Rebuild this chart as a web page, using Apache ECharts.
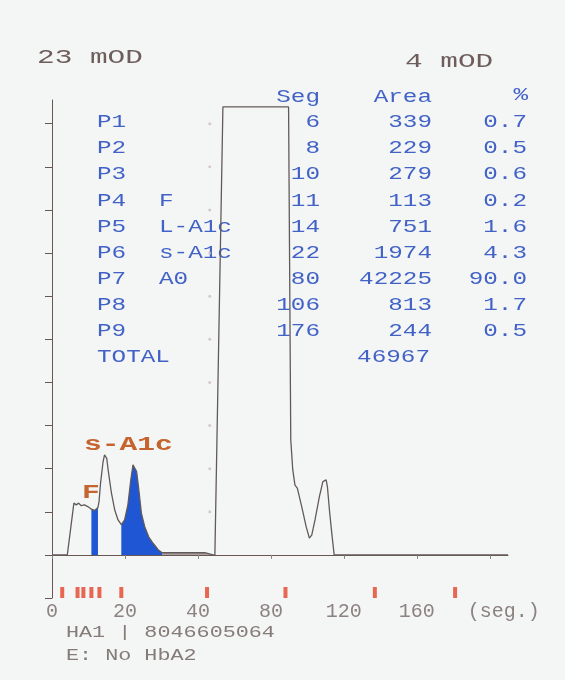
<!DOCTYPE html>
<html lang="en">
<head>
<meta charset="UTF-8">
<title>HbA1c chromatogram</title>
<script src="https://cdn.jsdelivr.net/npm/echarts@6.0.0/dist/echarts.min.js"></script>
<style>
  html, body { margin: 0; padding: 0; background: #f4f6f6; }
  #chart { width: 565px; height: 680px; }
</style>
</head>
<body>
<div id="chart"></div>
<script>
// peak table
const peakIds = ['P1', 'P2', 'P3', 'P4', 'P5', 'P6', 'P7', 'P8', 'P9'];
const peakNames = ['', '', '', 'F', 'L-A1c', 's-A1c', 'A0', '', ''];
const peakSegs = [6, 8, 10, 11, 14, 22, 80, 106, 176];
const peakAreas = [339, 229, 279, 113, 751, 1974, 42225, 813, 244];
const peakPcts = ['0.7', '0.5', '0.6', '0.2', '1.6', '4.3', '90.0', '1.7', '0.5'];
const totalArea = 46967;

// trace (x in seg., y in tick units)
const traceSeg = [0, 4.2, 6.0, 6.65, 7.3, 8.0, 8.9, 9.8, 10.3, 10.8,
  11.7, 12.6, 12.9, 13.3, 14.0, 14.4, 15.0, 15.5, 16.3, 17.2,
  18.1, 19.0, 19.9, 20.8, 21.6, 22.2, 22.7, 23.2, 23.8, 24.5,
  25.4, 26.5, 27.7, 29.1, 30.2, 36.4, 43.8, 48.2, 49.3, 53.7,
  89.7, 90.9, 92.0, 93.2, 94.5, 96.9, 99.3, 101.1, 102.4, 104.2,
  106.6, 108.5, 110.3, 111.0, 112.1, 113.4, 114.7, 210];
const traceOD = [0, 0, 1.20, 1.16, 1.20, 1.14, 1.16, 1.12, 1.16, 1.06,
  1.03, 1.10, 1.24, 1.66, 2.16, 2.32, 2.24, 1.90, 1.43, 1.04,
  0.81, 0.70, 0.81, 1.16, 1.74, 2.09, 2.13, 1.93, 1.51, 0.97,
  0.66, 0.42, 0.27, 0.12, 0.05, 0.05, 0.05, 0, 0, 10.39,
  10.39, 2.67, 1.97, 1.62, 1.55, 1.12, 0.66, 0.39, 0.46, 0.81,
  1.35, 1.70, 1.74, 1.58, 1.04, 0.50, 0, 0];

const fRange = [10.8, 12.6];
const sA1cRange = [19.0, 30.2];
const tailRange = [30.2, 48.2];

const markerSegs = [2.8, 7.0, 8.6, 10.8, 13.0, 19.0, 45, 88, 137, 181];
const dotSeg = 46.5;
const dotLevels = [1, 2, 3, 4, 5, 6, 7, 8, 9, 10];

const xTickLabels = [0, 20, 40, 80, 120, 160];
const xUnitLabel = '(seg.)';
const yTicks = [-1, 0, 1, 2, 3, 4, 5, 6, 7, 8, 9, 10];

// the printer draws 0-40 seg at double width
const toAxis = s => s <= 40 ? s : 40 + (s - 40) / 2;

const tracePts = traceSeg.map((s, i) => [toAxis(s), traceOD[i]]);
function part(r) {
    return traceSeg.map((s, i) => [s, traceOD[i]])
        .filter(p => p[0] >= r[0] && p[0] <= r[1])
        .map(p => [toAxis(p[0]), p[1]]);
}

const MONO = '"Liberation Mono", "DejaVu Sans Mono", monospace';
function txt(str, x, y, o) {
    return {
        type: 'text', x: x, y: y, scaleX: o.sx || 1, silent: true,
        style: {
            text: str,
            font: (o.bold ? 'bold ' : '') + o.size + 'px ' + MONO,
            fill: o.color,
            align: o.align || 'left', textAlign: o.align || 'left',
            verticalAlign: 'middle', textVerticalAlign: 'middle'
        }
    };
}

const BLUE = '#4262c6';
const tbl = { size: 18, sx: 1.35, color: BLUE };
const graphics = [
    txt('23 mOD', 37, 57, { size: 21, sx: 1.4, color: '#6d5d5b' }),
    txt('4 mOD', 405, 61, { size: 21, sx: 1.4, color: '#6d5d5b' }),
    txt('Seg', 320, 97, Object.assign({ align: 'right' }, tbl)),
    txt('Area', 432, 97, Object.assign({ align: 'right' }, tbl)),
    txt('%', 528, 95, Object.assign({ align: 'right' }, tbl)),
    txt('s-A1c', 84, 445, { size: 20, sx: 1.48, bold: true, color: '#c5642e' }),
    txt('F', 82, 493, { size: 20, sx: 1.48, bold: true, color: '#c5642e' }),
    txt('HA1 | 8046605064', 66, 633, { size: 16, sx: 1.36, color: '#857b79' }),
    txt('E: No HbA2', 66, 656, { size: 16, sx: 1.36, color: '#857b79' })
];
peakIds.forEach((id, i) => {
    const y = 122.5 + 26.1 * i;
    graphics.push(txt(id, 97, y, tbl));
    if (peakNames[i]) graphics.push(txt(peakNames[i], 159, y, tbl));
    graphics.push(txt(String(peakSegs[i]), 320, y, Object.assign({ align: 'right' }, tbl)));
    graphics.push(txt(String(peakAreas[i]), 432, y, Object.assign({ align: 'right' }, tbl)));
    graphics.push(txt(peakPcts[i], 527, y, Object.assign({ align: 'right' }, tbl)));
});
graphics.push(txt('TOTAL', 97, 122.5 + 26.1 * 9, tbl));
graphics.push(txt(String(totalArea), 430, 122.5 + 26.1 * 9, Object.assign({ align: 'right' }, tbl)));

const AXIS = '#6b5752';
const chart = echarts.init(document.getElementById('chart'));
chart.setOption({
    animation: false,
    backgroundColor: '#f4f6f6',
    grid: { left: 52, right: 57, top: 100, bottom: 82 },
    xAxis: {
        type: 'value', min: 0, max: 125,
        axisLine: { lineStyle: { color: AXIS, width: 1 } },
        axisTick: { show: true, length: 4, lineStyle: { color: '#8c8280' },
            customValues: [0, 20, 40, 60, 80, 100, 120] },
        splitLine: { show: false },
        axisLabel: {
            customValues: [0, 20, 40, 60, 80, 100, 120],
            margin: 4,
            color: '#8c8280', fontSize: 20, fontFamily: MONO,
            formatter: v => {
                const i = Math.round(v / 20);
                return i < xTickLabels.length ? String(xTickLabels[i]) : '{u|' + xUnitLabel + '}';
            },
            rich: { u: { padding: [0, 0, 0, 28], color: '#8c8280', fontSize: 20, fontFamily: MONO } }
        }
    },
    yAxis: {
        type: 'value', min: -1, max: 10.55,
        axisLine: { show: true, lineStyle: { color: AXIS, width: 1 } },
        axisTick: { show: true, length: 7, lineStyle: { color: AXIS }, customValues: yTicks },
        axisLabel: { show: false },
        splitLine: { show: false }
    },
    graphic: graphics,
    series: [
        {
            type: 'line', data: part(fRange), symbol: 'none', silent: true, z: 2,
            lineStyle: { width: 0 }, areaStyle: { color: '#1f56d4', opacity: 1 }
        },
        {
            type: 'line', data: part(sA1cRange), symbol: 'none', silent: true, z: 2,
            lineStyle: { width: 0 }, areaStyle: { color: '#1f56d4', opacity: 1 }
        },
        {
            type: 'line', data: part(tailRange), symbol: 'none', silent: true, z: 2,
            lineStyle: { width: 0 }, areaStyle: { color: '#aaa2a2', opacity: 1 }
        },
        {
            type: 'line', data: tracePts, symbol: 'none', silent: true, z: 3,
            lineStyle: { color: '#625a58', width: 1.3 }
        },
        {
            type: 'scatter', data: dotLevels.map(v => [toAxis(dotSeg), v]),
            symbolSize: 3, silent: true, itemStyle: { color: '#cdbebe' }
        },
        {
            type: 'scatter', data: markerSegs.map(s => [toAxis(s), -1]),
            symbol: 'rect', symbolSize: [4, 11], symbolOffset: [0, -5.5],
            silent: true, clip: false, itemStyle: { color: '#e4432b' }
        }
    ]
});
</script>
</body>
</html>
